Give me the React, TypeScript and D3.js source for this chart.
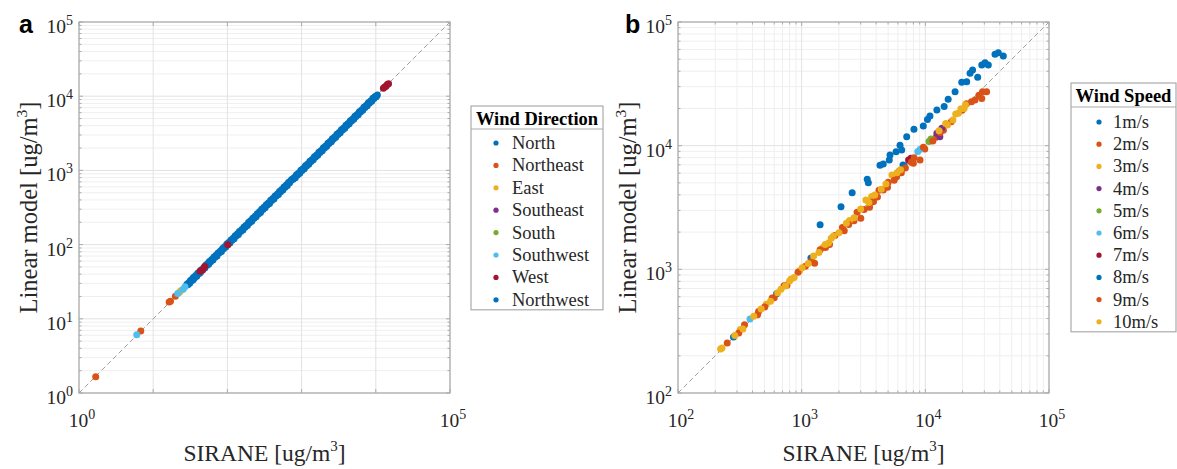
import React from 'react';
import * as d3 from 'd3';

// Panel a: wind direction groups (SIRANE vs linear model, ug/m3)
const dirNames = ['North', 'Northeast', 'East', 'Southeast', 'South', 'Southwest', 'West', 'Northwest'];
const dirColors = ['#0072BD', '#D95319', '#EDB120', '#7E2F8E', '#77AC30', '#4DBEEE', '#A2142F', '#0072BD'];

const northSirane = [28.5, 29.3, 30.2, 31.0, 31.8, 32.9, 33.9, 34.6, 35.1, 36.2, 37.4, 38.6, 39.8, 41.1, 42.6, 43.3, 44.1, 45.8, 47.9, 49.6, 51.3, 53.2, 54.8, 55.9, 57.2, 59.4, 61.5, 63.8, 65.9, 68.0, 70.3, 72.4, 74.8, 77.9, 80.6, 83.2, 86.1, 88.7, 91.7, 95.2, 98.4, 101.1, 104.2, 108.1, 111.8, 115.4, 119.5, 123.2, 127.3, 132.4, 136.9, 140.8, 145.2, 151.3, 156.8, 161.9, 167.4, 173.0, 179.1, 186.2, 192.6, 198.7, 205.3, 212.9, 219.8, 228.3, 236.4, 243.8, 252.1, 261.6, 270.7, 279.8, 289.5, 300.4, 311.2, 322.1, 333.9, 344.6, 356.4, 369.9, 382.8, 395.7, 409.5, 423.3, 438.1, 455.2, 471.6, 487.0, 503.2, 521.8, 540.7, 559.1, 579.3, 600.2, 621.8, 642.7, 665.4, 689.9, 714.9];
const northLinear = [29.2, 28.8, 30.6, 30.1, 32.9, 32.6, 34.7, 33.6, 36.3, 35.8, 38.2, 37.5, 41.1, 40.6, 43.5, 42.1, 45.6, 45.3, 48.9, 48.2, 53.0, 52.6, 56.0, 54.3, 59.1, 58.8, 62.8, 62.0, 68.1, 67.3, 71.8, 70.3, 77.3, 77.1, 82.3, 80.8, 88.9, 87.8, 93.6, 92.5, 101.6, 100.1, 106.4, 105.0, 115.5, 114.2, 122.0, 119.7, 131.5, 131.1, 139.8, 136.8, 150.0, 149.8, 160.1, 157.3, 172.9, 171.3, 182.9, 180.9, 198.9, 196.7, 209.6, 206.8, 227.0, 226.0, 241.4, 236.8, 260.4, 259.0, 276.4, 271.8, 299.0, 297.4, 317.7, 312.9, 344.9, 341.2, 363.9, 359.3, 395.4, 391.7, 418.1, 411.2, 452.5, 450.6, 481.5, 473.1, 519.8, 516.6, 552.1, 543.1, 598.4, 594.2, 634.9, 624.3, 687.3, 683.0, 729.9];
const northeastSirane = [1.68, 6.8, 16.4, 17.1, 19.9];
const northeastLinear = [1.66, 6.85, 16.8, 17.3, 20.1];
const eastSirane = [23.4, 22.6];
const eastLinear = [23.9, 22.8];
const southeastSirane = [2510];
const southeastLinear = [2480];
const southSirane = [4240];
const southLinear = [4210];
const southwestSirane = [6.0, 21.4, 25.3, 26.8];
const southwestLinear = [6.1, 21.9, 25.0, 27.1];
const westSirane = [42.8, 46.3, 49.5, 101.2, 12650, 13180, 13720, 14260, 14850];
const westLinear = [43.6, 45.5, 50.7, 99.8, 12780, 13350, 13590, 14410, 14700];
const northwestSirane = [742.5, 768.9, 796.1, 823.4, 851.8, 881.2, 913.4, 945.0, 978.6, 1013, 1049, 1087, 1126, 1166, 1207, 1249, 1293, 1340, 1388, 1436, 1487, 1540, 1595, 1651, 1709, 1770, 1834, 1899, 1966, 2036, 2108, 2183, 2261, 2341, 2425, 2510, 2598, 2691, 2787, 2886, 2989, 3095, 3204, 3318, 3436, 3558, 3684, 3816, 3951, 4092, 4236, 4387, 4542, 4704, 4871, 5044, 5223, 5409, 5601, 5800, 6006, 6220, 6440, 6669, 6905, 7151, 7404, 7668, 7939, 8222, 8513, 8816, 9128, 9453, 9787, 10136, 10495];
const northwestLinear = [761.1, 757.4, 804.1, 798.7, 873.1, 868.0, 922.5, 916.7, 1003, 997.8, 1059, 1054, 1154, 1149, 1219, 1212, 1325, 1320, 1402, 1393, 1524, 1517, 1611, 1601, 1752, 1743, 1852, 1842, 2015, 2005, 2129, 2118, 2318, 2306, 2449, 2435, 2663, 2651, 2815, 2799, 3064, 3049, 3236, 3218, 3522, 3505, 3721, 3702, 4050, 4031, 4278, 4255, 4656, 4633, 4920, 4893, 5354, 5328, 5657, 5626, 6156, 6127, 6504, 6469, 7078, 7044, 7478, 7438, 8137, 8099, 8598, 8552, 9356, 9311, 9885, 9832, 10390];

// Panel b: wind speed groups
const speedNames = ['1m/s', '2m/s', '3m/s', '4m/s', '5m/s', '6m/s', '7m/s', '8m/s', '9m/s', '10m/s'];
const speedColors = ['#0072BD', '#D95319', '#EDB120', '#7E2F8E', '#77AC30', '#4DBEEE', '#A2142F', '#0072BD', '#D95319', '#EDB120'];

const s1Sirane = [1410, 2080, 2560, 3390, 3460, 4300, 4570, 5110, 5180, 5800, 6240, 6440, 7070, 8090, 9630, 10400, 10900, 12400, 14200, 15300, 17400, 19700, 21600, 23000, 24100, 26500, 28600, 30400, 32300, 36600, 38900, 42700];
const s1Linear = [2290, 3200, 4160, 5350, 5010, 6930, 7110, 7650, 8400, 8940, 10100, 9220, 11800, 13600, 14400, 16300, 17400, 19400, 20700, 23700, 27300, 32500, 32900, 38500, 40900, 35700, 44900, 46900, 44900, 54800, 56400, 53100];
const s2Sirane = [250, 345, 448, 577, 760, 1273, 1680, 2210, 2650, 3006, 3540, 3810, 4570, 4950, 5860, 6400, 8000, 9060, 9900, 12200, 14000, 16200, 19800, 21500, 23600, 25200, 27100, 28600, 29000, 31300];
const s2Linear = [254, 357, 457, 586, 745, 1122, 1590, 2050, 2470, 2588, 3180, 3540, 4380, 4620, 5610, 6050, 7200, 7650, 9400, 11700, 13300, 15600, 19300, 21800, 22700, 23400, 25600, 24100, 27300, 27300];
const s3Sirane = [221, 319, 517, 798, 961, 1485, 1733, 2437, 3304, 3680, 5370, 15100, 16700, 18500, 20600];
const s3Linear = [227, 326, 522, 805, 975, 1500, 1780, 2480, 3642, 3880, 5790, 14700, 16100, 18300, 20000];
const s4Sirane = [12400, 13100, 13600];
const s4Linear = [12600, 11800, 13800];
const s5Sirane = [10700, 11100];
const s5Linear = [10800, 11300];
const s6Sirane = [382, 8690, 9100];
const s6Linear = [397, 8960, 9350];
const s7Sirane = [7320, 7650];
const s7Linear = [7670, 7900];
const s8Sirane = [281, 627, 1188, 6600, 6750];
const s8Linear = [284, 635, 1236, 6980, 6850];
const s9Sirane = [310, 440, 503, 600, 720, 934, 1072, 1200, 1410, 1560, 1858, 2134, 2400, 2806, 3200, 3700, 4100, 4220, 5010, 5600, 6160, 6900, 7700, 8110, 9640, 11500, 13200];
const s9Linear = [305, 430, 496, 590, 735, 945, 1060, 1170, 1440, 1500, 1880, 2180, 2300, 2900, 3050, 3500, 3850, 4350, 5050, 5250, 6250, 6600, 7350, 8000, 9700, 10900, 12800];
const s10Sirane = [227, 288, 335, 410, 470, 560, 640, 680, 740, 820, 870, 1010, 1130, 1250, 1380, 1550, 1650, 1800, 2000, 2300, 2650, 3000, 3500, 3900, 4400, 4800, 5900, 6300, 12900, 14600, 17600, 19400, 21100];
const s10Linear = [231, 292, 330, 418, 478, 553, 648, 690, 733, 835, 860, 1030, 1115, 1280, 1365, 1590, 1630, 1850, 1980, 2360, 2610, 3080, 3470, 4000, 4450, 4900, 6050, 6400, 13200, 15100, 18000, 19900, 21400];

const SERIF = '"Liberation Serif", "Times New Roman", serif';
const SANS = '"Liberation Sans", Arial, sans-serif';
const FRAME = '#ababab';

type Series = { name: string; color: string; xs: number[]; ys: number[] };

const seriesA: Series[] = [
  [northSirane, northLinear], [northeastSirane, northeastLinear], [eastSirane, eastLinear],
  [southeastSirane, southeastLinear], [southSirane, southLinear], [southwestSirane, southwestLinear],
  [westSirane, westLinear], [northwestSirane, northwestLinear],
].map(([xs, ys], i) => ({ name: dirNames[i], color: dirColors[i], xs, ys }));

const seriesB: Series[] = [
  [s1Sirane, s1Linear], [s2Sirane, s2Linear], [s3Sirane, s3Linear], [s4Sirane, s4Linear],
  [s5Sirane, s5Linear], [s6Sirane, s6Linear], [s7Sirane, s7Linear], [s8Sirane, s8Linear],
  [s9Sirane, s9Linear], [s10Sirane, s10Linear],
].map(([xs, ys], i) => ({ name: speedNames[i], color: speedColors[i], xs, ys }));

function Pow10({ x, y, e, anchor }: { x: number; y: number; e: number; anchor: string }) {
  return (
    <text x={x} y={y} textAnchor={anchor} fontFamily={SERIF} fontSize={19.5} fill="#262626">
      10<tspan dy={-8} fontSize={14}>{e}</tspan>
    </text>
  );
}

function Panel({ left, top, size, lo, hi, series, label, labelX, xLabelExps, xMinorGrid }: {
  left: number; top: number; size: number; lo: number; hi: number; series: Series[];
  label: string; labelX: number; xLabelExps: number[]; xMinorGrid: boolean;
}) {
  const x = d3.scaleLog().domain([lo, hi]).range([left, left + size]);
  const y = d3.scaleLog().domain([lo, hi]).range([top + size, top]);
  const majors: number[] = [];
  const minors: number[] = [];
  for (let v = lo; v <= hi; v *= 10) {
    majors.push(v);
    if (v < hi) for (let k = 2; k <= 9; k++) minors.push(v * k);
  }
  const right = left + size;
  const bottom = top + size;
  return (
    <g>
      <rect x={left} y={top} width={size} height={size} fill="#fff" />
      {/* grid */}
      {minors.map((v) => (
        <line key={'hm' + v} x1={left} x2={right} y1={y(v)} y2={y(v)} stroke="#efefef" strokeWidth={1} />
      ))}
      {xMinorGrid && minors.map((v) => (
        <line key={'vm' + v} x1={x(v)} x2={x(v)} y1={top} y2={bottom} stroke="#efefef" strokeWidth={1} />
      ))}
      {majors.map((v) => (
        <g key={'g' + v}>
          <line x1={left} x2={right} y1={y(v)} y2={y(v)} stroke="#e2e2e2" strokeWidth={1} />
          <line x1={x(v)} x2={x(v)} y1={top} y2={bottom} stroke="#e2e2e2" strokeWidth={1} />
        </g>
      ))}
      {/* ticks */}
      {minors.map((v) => (
        <g key={'tm' + v} stroke={FRAME} strokeWidth={1}>
          <line x1={left} x2={left + 2.5} y1={y(v)} y2={y(v)} />
          <line x1={right} x2={right - 2.5} y1={y(v)} y2={y(v)} />
          {xMinorGrid && <line x1={x(v)} x2={x(v)} y1={bottom} y2={bottom - 2.5} />}
          {xMinorGrid && <line x1={x(v)} x2={x(v)} y1={top} y2={top + 2.5} />}
        </g>
      ))}
      {majors.map((v) => (
        <g key={'tM' + v} stroke={FRAME} strokeWidth={1}>
          <line x1={left} x2={left + 4} y1={y(v)} y2={y(v)} />
          <line x1={right} x2={right - 4} y1={y(v)} y2={y(v)} />
          <line x1={x(v)} x2={x(v)} y1={bottom} y2={bottom - 4} />
          <line x1={x(v)} x2={x(v)} y1={top} y2={top + 4} />
        </g>
      ))}
      {/* 1:1 line */}
      <line x1={x(lo)} y1={y(lo)} x2={x(hi)} y2={y(hi)} stroke="#a0a0a0" strokeWidth={1} strokeDasharray="5,3" />
      {/* points */}
      {series.map((s) => (
        <g key={s.name} fill={s.color}>
          {s.xs.map((v, i) => (
            <circle key={i} cx={x(v)} cy={y(s.ys[i])} r={3.5} />
          ))}
        </g>
      ))}
      <rect x={left} y={top} width={size} height={size} fill="none" stroke={FRAME} strokeWidth={1.2} />
      {/* tick labels */}
      {majors.map((v) => (
        <Pow10 key={'yl' + v} x={left - 6} y={y(v) + 11} e={Math.round(Math.log10(v))} anchor="end" />
      ))}
      {majors.filter((v) => xLabelExps.includes(Math.round(Math.log10(v)))).map((v) => (
        <Pow10 key={'xl' + v} x={x(v) + 3} y={427} e={Math.round(Math.log10(v))} anchor="middle" />
      ))}
      {/* axis titles */}
      <text x={(left + right) / 2} y={461} textAnchor="middle" fontFamily={SERIF} fontSize={23.5} fill="#262626">
        SIRANE [ug/m<tspan dy={-10} fontSize={15}>3</tspan><tspan dy={10}>]</tspan>
      </text>
      <text transform={`translate(${left - 42},${(top + bottom) / 2}) rotate(-90)`} textAnchor="middle" fontFamily={SERIF} fontSize={24.5} fill="#262626">
        Linear model [ug/m<tspan dy={-10} fontSize={15.5}>3</tspan><tspan dy={10}>]</tspan>
      </text>
      <text x={labelX} y={33} fontFamily={SANS} fontWeight="bold" fontSize={25} fill="#000">{label}</text>
    </g>
  );
}

function Legend({ left, top, width, title, series, sepY, titleY, rowY, rowStep, markerX, textX }: {
  left: number; top: number; width: number; title: string; series: Series[];
  sepY: number; titleY: number; rowY: number; rowStep: number; markerX: number; textX: number;
}) {
  const bottom = rowY + rowStep * (series.length - 1) + 10;
  return (
    <g>
      <rect x={left} y={top} width={width} height={bottom - top} fill="#fff" stroke={FRAME} strokeWidth={1.2} />
      <line x1={left} x2={left + width} y1={sepY} y2={sepY} stroke={FRAME} strokeWidth={1.2} />
      <text x={left + width / 2} y={titleY} textAnchor="middle" fontFamily={SERIF} fontWeight="bold" fontSize={18.5} fill="#000">{title}</text>
      {series.map((s, i) => (
        <g key={s.name}>
          <circle cx={markerX} cy={rowY + i * rowStep} r={2.6} fill={s.color} />
          <text x={textX} y={rowY + i * rowStep + 6} fontFamily={SERIF} fontSize={18.5} fill="#262626">{s.name}</text>
        </g>
      ))}
    </g>
  );
}

export default function App() {
  return (
    <svg width={1177} height={469} style={{ position: 'absolute', left: 0, top: 0, background: '#fff' }}>
      <Panel left={79} top={22} size={371} lo={1} hi={1e5} series={seriesA} label="a" labelX={19} xLabelExps={[0, 5]} xMinorGrid={false} />
      <Panel left={678} top={22} size={371} lo={1e2} hi={1e5} series={seriesB} label="b" labelX={625} xLabelExps={[2, 3, 4, 5]} xMinorGrid={true} />
      <Legend left={471} top={106} width={132} title="Wind Direction" series={seriesA} sepY={129} titleY={125} rowY={143} rowStep={22.4} markerX={496} textX={512} />
      <Legend left={1071} top={83} width={105} title="Wind Speed" series={seriesB} sepY={107} titleY={102} rowY={122} rowStep={22.2} markerX={1099} textX={1113} />
    </svg>
  );
}
